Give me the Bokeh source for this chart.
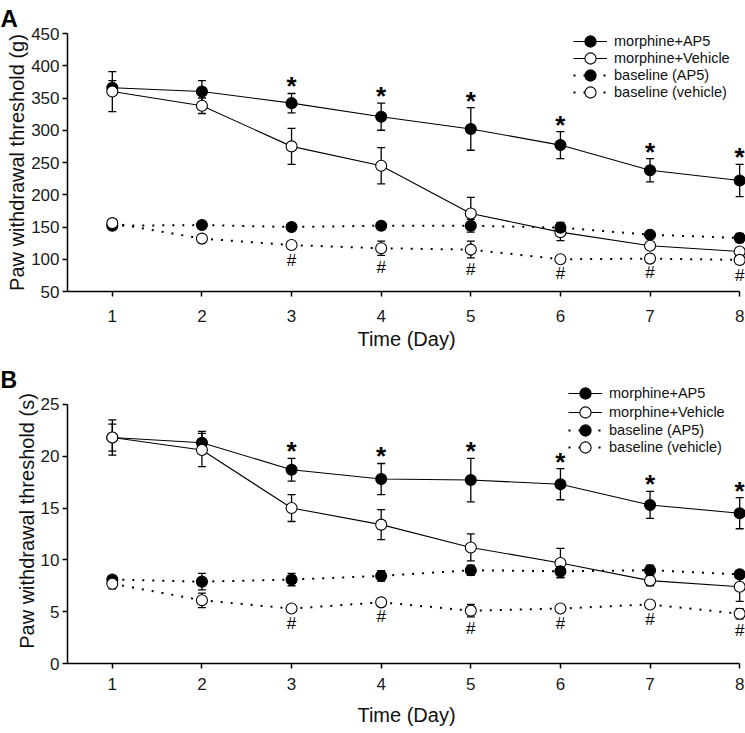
from bokeh.plotting import figure
from bokeh.models import (ColumnDataSource, Whisker, TeeHead, Legend, LegendItem,
                          Title, FixedTicker, Range1d)
from bokeh.layouts import column
from bokeh.embed import file_html
from bokeh.resources import INLINE
from bokeh.core.properties import value

FONT = "Liberation Sans"

days = [1, 2, 3, 4, 5, 6, 7, 8]
sig_days = [3, 4, 5, 6, 7, 8]

# Panel A: paw withdrawal threshold (g)
a_morph_ap5 = [366, 360, 342, 321, 302, 277, 238, 222]
a_morph_ap5_err = [11, 17, 15, 21, 33, 21, 18, 25]
a_morph_veh = [360, 338, 275, 245, 171, 142, 121, 112]
a_morph_veh_err = [31, 12, 28, 28, 25, 13, 5, 5]
a_base_ap5 = [152, 153, 150, 152, 152, 149, 138, 133]
a_base_ap5_err = [4, 5, 4, 6, 10, 8, 4, 7]
a_base_veh = [156, 132, 122, 117, 115, 100, 101, 99]
a_base_veh_err = [4, 4, 5, 11, 13, 3, 3, 6]
a_yticks = [50, 100, 150, 200, 250, 300, 350, 400, 450]

# Panel B: paw withdrawal threshold (s)
b_morph_ap5 = [21.8, 21.3, 18.7, 17.8, 17.7, 17.3, 15.3, 14.5]
b_morph_ap5_err = [1.3, 1.1, 1.1, 1.5, 2.1, 1.5, 1.3, 1.5]
b_morph_veh = [21.8, 20.6, 15.0, 13.4, 11.2, 9.7, 8.0, 7.4]
b_morph_veh_err = [1.7, 1.6, 1.3, 1.45, 1.3, 1.4, 0.5, 1.4]
b_base_ap5 = [8.1, 7.9, 8.1, 8.45, 9.0, 8.9, 9.0, 8.6]
b_base_ap5_err = [0.3, 0.8, 0.6, 0.5, 0.5, 0.6, 0.5, 0.3]
b_base_veh = [7.7, 6.1, 5.3, 5.9, 5.1, 5.3, 5.7, 4.8]
b_base_veh_err = [0.5, 0.7, 0.3, 0.2, 0.6, 0.3, 0.3, 0.5]
b_yticks = [0, 5, 10, 15, 20, 25]

labels = ["morphine+AP5", "morphine+Vehicle", "baseline (AP5)", "baseline (vehicle)"]


def panel(ylabel, yticks, y_end, series, height, top, bottom, leg_x, leg_ys, margin,
          tick_standoff, xlab_standoff):
    p = figure(width=745, height=height, output_backend="svg", toolbar_location=None,
               x_range=Range1d(0.5, 8.065), y_range=Range1d(yticks[0], y_end),
               min_border_left=67, min_border_right=0, min_border_top=top,
               min_border_bottom=bottom, margin=margin)
    p.outline_line_color = None
    p.grid.grid_line_color = None
    p.background_fill_color = None
    p.border_fill_color = None
    for ax in (p.xaxis[0], p.yaxis[0]):
        ax.axis_line_width = 1.5
        ax.major_tick_line_width = 1.5
        ax.major_tick_out = 5
        ax.major_tick_in = 0
        ax.minor_tick_line_color = None
        ax.major_label_text_font = FONT
        ax.major_label_text_font_size = "17px"
        ax.major_label_text_color = "#1a1a1a"
        ax.axis_label_text_font = FONT
        ax.axis_label_text_font_size = "20px"
        ax.axis_label_text_font_style = "normal"
        ax.axis_label_text_color = "#111111"
    p.xaxis.ticker = FixedTicker(ticks=days)
    p.yaxis.ticker = FixedTicker(ticks=yticks)
    p.xaxis.bounds = (days[0] - 0.5, days[-1])
    p.yaxis.bounds = (yticks[0], yticks[-1])
    p.xaxis.axis_label = "Time (Day)"
    p.yaxis.axis_label = ylabel
    p.xaxis.major_label_standoff = tick_standoff
    p.xaxis.axis_label_standoff = xlab_standoff
    p.yaxis.major_label_standoff = 3
    p.yaxis.axis_label_standoff = 0

    items = []
    for (vals, errs, filled, dotted), lab in zip(series, labels):
        src = ColumnDataSource(dict(x=days, y=vals,
                                    lo=[v - e for v, e in zip(vals, errs)],
                                    hi=[v + e for v, e in zip(vals, errs)]))
        w = Whisker(source=src, base="x", lower="lo", upper="hi", level="underlay",
                    line_color="black", line_width=1.3,
                    upper_head=TeeHead(size=8, line_color="black", line_width=1.3),
                    lower_head=TeeHead(size=8, line_color="black", line_width=1.3))
        p.add_layout(w)
        ln = p.line("x", "y", source=src, line_color="black",
                    line_width=2 if dotted else 1.1,
                    line_dash="2 8" if dotted else "solid")
        sc = p.scatter("x", "y", source=src, size=11, line_color="black", line_width=1.1,
                       fill_color="black" if filled else "white")
        items.append(LegendItem(label=lab, renderers=[ln, sc]))

    # significance marks
    m_ap5, m_ap5_err = series[0][0], series[0][1]
    b_veh, b_veh_err = series[3][0], series[3][1]
    star_src = ColumnDataSource(dict(
        x=sig_days,
        y=[m_ap5[d - 1] + m_ap5_err[d - 1] for d in sig_days]))
    hash_src = ColumnDataSource(dict(
        x=sig_days,
        y=[b_veh[d - 1] - b_veh_err[d - 1] for d in sig_days]))
    p.text("x", "y", text=value("*"), source=star_src, text_font=value(FONT),
           text_font_size="26px", text_font_style="bold", text_align="center",
           text_baseline="alphabetic", y_offset=-7, text_color="black")
    p.text("x", "y", text=value("#"), source=hash_src, text_font=value(FONT),
           text_font_size="17px", text_align="center", text_baseline="alphabetic",
           y_offset=12, text_color="black")

    # one legend per row so the rows can sit closer than the marker box
    for item, ly in zip(items, leg_ys):
        leg = Legend(items=[item], location=(leg_x, ly), border_line_color=None,
                     background_fill_alpha=0, glyph_width=34, glyph_height=28,
                     label_text_font=FONT, label_text_font_size="14.5px",
                     label_standoff=7, spacing=0, padding=0, margin=0,
                     label_text_color="#111111")
        p.add_layout(leg)
    return p


pa = panel("Paw withdrawal threshold (g)", a_yticks, 450,
           [(a_morph_ap5, a_morph_ap5_err, True, False),
            (a_morph_veh, a_morph_veh_err, False, False),
            (a_base_ap5, a_base_ap5_err, True, True),
            (a_base_veh, a_base_veh_err, False, True)],
           404, 33, 60, 506, [236, 219, 202, 185], (0, 0, 0, 0), 13, 3)
pa.add_layout(Title(text="A", align="left", offset=-67, standoff=3,
                    text_font=FONT, text_font_size="24px", text_font_style="bold",
                    text_color="black"), "above")
pa.add_layout(Title(text="B", align="left", offset=-67, standoff=24,
                    text_font=FONT, text_font_size="23px", text_font_style="bold",
                    text_color="black"), "below")

pb = panel("Paw withdrawal threshold (s)", b_yticks, 27.5,
           [(b_morph_ap5, b_morph_ap5_err, True, False),
            (b_morph_veh, b_morph_veh_err, False, False),
            (b_base_ap5, b_base_ap5_err, True, True),
            (b_base_veh, b_base_veh_err, False, True)],
           364, 10, 69, 501, [256, 237.5, 219, 202], (-36, 0, 0, 0), 9, 11)

layout = column(pa, pb, spacing=0)
open("out.html", "w").write(file_html(layout, INLINE))
